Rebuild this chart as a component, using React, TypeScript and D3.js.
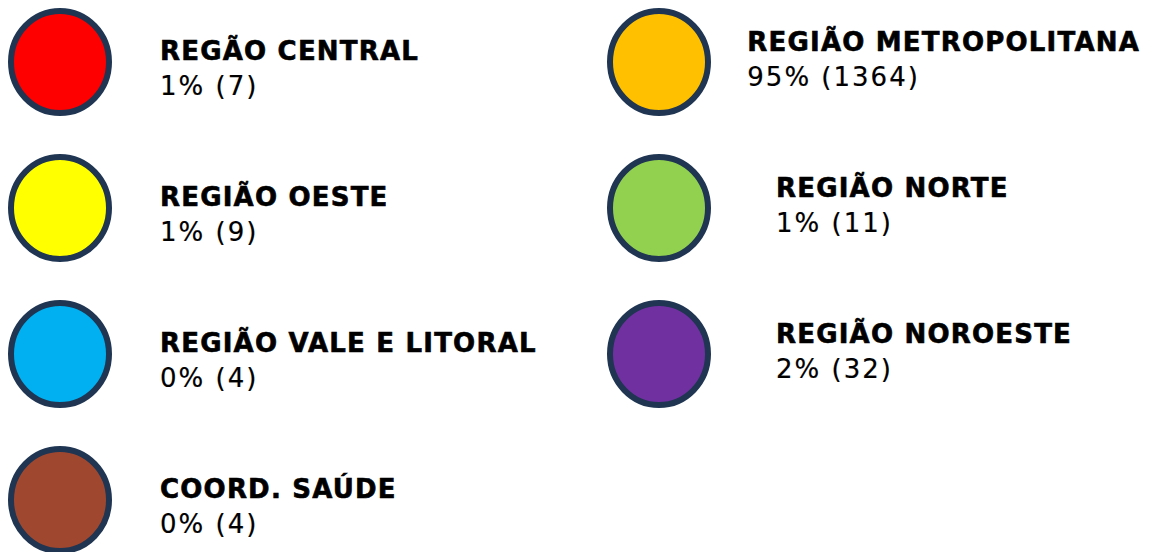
import React, { useEffect, useRef } from 'react';
import * as d3 from 'd3';

// legend entries, read left-to-right, top-to-bottom
const regions = [
  'REGÃO CENTRAL',
  'REGIÃO METROPOLITANA',
  'REGIÃO OESTE',
  'REGIÃO NORTE',
  'REGIÃO VALE E LITORAL',
  'REGIÃO NOROESTE',
  'COORD. SAÚDE',
];
const percents = [1, 95, 1, 1, 0, 2, 0];
const counts = [7, 1364, 9, 11, 4, 32, 4];
const colors = ['#FF0000', '#FFC000', '#FFFF00', '#92D050', '#00B0F0', '#7030A0', '#A0482F'];

const App = () => {
  const ref = useRef<SVGSVGElement>(null);

  useEffect(() => {
    const width = 1174;
    const height = 552;
    const nRows = Math.ceil(regions.length / 2);

    const items = regions.map((name, i) => ({
      name,
      pct: percents[i],
      count: counts[i],
      color: colors[i],
      col: i % 2,
      row: Math.floor(i / 2),
    }));

    const y = d3.scalePoint<number>().domain(d3.range(nRows)).range([62, 500]);
    const x = d3.scalePoint<number>().domain([0, 1]).range([60, 659]);
    const textX = [160, 776];
    const textDy = [-2, -11];
    const rightLimit = 1140;

    const svg = d3.select(ref.current);
    svg.selectAll('*').remove();
    svg.attr('viewBox', [0, 0, width, height]).attr('width', width).attr('height', height);

    const g = svg.selectAll('g.item')
      .data(items)
      .join('g')
      .attr('class', 'item');

    g.append('ellipse')
      .attr('cx', d => x(d.col)!)
      .attr('cy', d => y(d.row)!)
      .attr('rx', 49)
      .attr('ry', 51)
      .attr('fill', d => d.color)
      .attr('stroke', '#1F3552')
      .attr('stroke-width', 6);

    const title = g.append('text')
      .attr('x', d => textX[d.col])
      .attr('y', d => y(d.row)! + textDy[d.col])
      .attr('font-family', 'Verdana, "DejaVu Sans", sans-serif')
      .attr('font-size', 26)
      .attr('font-weight', 'bold')
      .attr('letter-spacing', 1.2)
      .attr('fill', '#000')
      .attr('stroke', '#000')
      .attr('stroke-width', 0.6)
      .text(d => d.name);

    const value = g.append('text')
      .attr('x', d => textX[d.col])
      .attr('y', d => y(d.row)! + textDy[d.col] + 35)
      .attr('font-family', 'Verdana, "DejaVu Sans", sans-serif')
      .attr('font-size', 26)
      .attr('letter-spacing', 2)
      .attr('fill', '#000')
      .attr('stroke', '#000')
      .attr('stroke-width', 0.2)
      .text(d => `${d.pct}% (${d.count})`);

    // long titles get pulled left so they stay inside the frame
    title.each(function (d) {
      const w = (this as SVGTextElement).getComputedTextLength();
      const tx = Math.min(textX[d.col], rightLimit - w);
      d3.select(this).attr('x', tx);
      value.filter(v => v === d).attr('x', tx);
    });
  }, []);

  return (
    <svg
      ref={ref}
      style={{ position: 'absolute', left: 0, top: 0, display: 'block', background: '#fff' }}
    />
  );
};

export default App;
